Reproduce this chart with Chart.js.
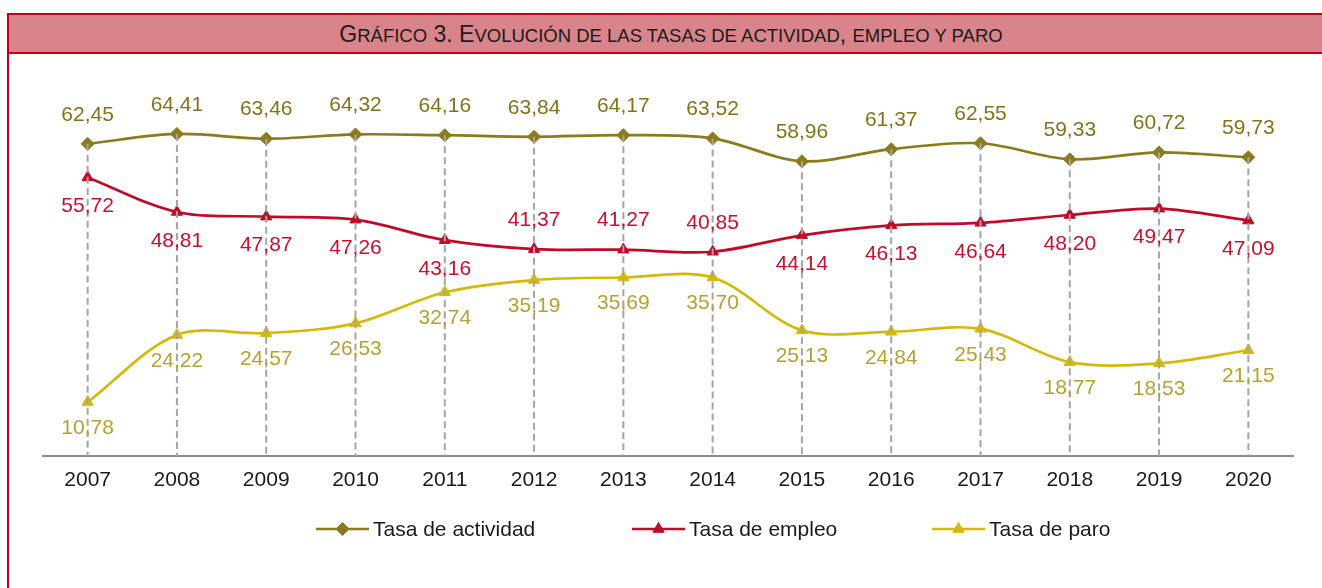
<!DOCTYPE html>
<html>
<head>
<meta charset="utf-8">
<script src="https://cdn.jsdelivr.net/npm/chart.js@4/dist/chart.umd.min.js"></script>
<style>
  html, body { margin: 0; padding: 0; background: #fff; width: 1322px; height: 588px; overflow: hidden; }
  #frame { position: absolute; left: 7px; top: 13px; width: 1328px; height: 600px; border: 2px solid #C0001E; box-sizing: border-box; }
  #band { position: absolute; left: 0; top: 0; right: 0; height: 39px; background: #D9838A; border-bottom: 2px solid #C0001E; box-sizing: border-box;
          font-family: "Liberation Sans", Arial, sans-serif; font-size: 23px; color: #1a1a1a; text-align: center; line-height: 38px; white-space: nowrap; }
  #band .s { font-size: 18.5px; }
  #c { position: absolute; left: 0; top: 0; }
</style>
</head>
<body>
<div id="frame"><div id="band">G<span class="s">RÁFICO</span> 3. E<span class="s">VOLUCIÓN DE LAS TASAS DE ACTIVIDAD</span>, <span class="s">EMPLEO Y PARO</span></div></div>
<canvas id="c" width="1322" height="588"></canvas>
<script>
const categories = ['2007','2008','2009','2010','2011','2012','2013','2014','2015','2016','2017','2018','2019','2020'];
const tasaActividad = [62.45, 64.41, 63.46, 64.32, 64.16, 63.84, 64.17, 63.52, 58.96, 61.37, 62.55, 59.33, 60.72, 59.73];
const tasaEmpleo    = [55.72, 48.81, 47.87, 47.26, 43.16, 41.37, 41.27, 40.85, 44.14, 46.13, 46.64, 48.20, 49.47, 47.09];
const tasaParo      = [10.78, 24.22, 24.57, 26.53, 32.74, 35.19, 35.69, 35.70, 25.13, 24.84, 25.43, 18.77, 18.53, 21.15];
const seriesNames   = ['Tasa de actividad', 'Tasa de empleo', 'Tasa de paro'];

const FONT = '"Liberation Sans", Arial, sans-serif';
const styles = [
  { line: '#8C7A1C', label: '#85731A', point: 'rectRot', radius: 6.5, pos: () => 'above', off: 29 },
  { line: '#C00A28', label: '#C8102E', point: 'triangle', radius: 6.5, pos: i => (i >= 5 && i <= 7 ? 'above' : 'below'), off: 29 },
  { line: '#D4B90A', label: '#B9A030', point: 'triangle', radius: 6.5, pos: () => 'below', off: 26 }
];

function fmt(v) { return v.toFixed(2).replace('.', ','); }

const dropLines = {
  id: 'dropLines',
  afterDatasetsDraw(chart) {
    const ctx = chart.ctx;
    const bottom = chart.chartArea.bottom;
    const metas = chart.data.datasets.map((d, i) => chart.getDatasetMeta(i));
    ctx.save();
    ctx.strokeStyle = '#A5A5A5';
    ctx.lineWidth = 2;
    ctx.setLineDash([7, 4]);
    categories.forEach((c, i) => {
      let top = Infinity, x = 0;
      metas.forEach(m => { const el = m.data[i]; if (el.y < top) { top = el.y; x = el.x; } });
      ctx.beginPath();
      ctx.moveTo(x, top);
      ctx.lineTo(x, bottom);
      ctx.stroke();
    });
    ctx.restore();
  }
};

const valueLabels = {
  id: 'valueLabels',
  afterDraw(chart) {
    const ctx = chart.ctx;
    ctx.save();
    ctx.font = '21px ' + FONT;
    ctx.textAlign = 'center';
    ctx.textBaseline = 'middle';
    chart.data.datasets.forEach((ds, di) => {
      const st = styles[di];
      const meta = chart.getDatasetMeta(di);
      ctx.fillStyle = st.label;
      meta.data.forEach((el, i) => {
        const dy = st.pos(i) === 'above' ? -st.off : st.off;
        ctx.fillText(fmt(ds.data[i]), el.x, el.y + dy);
      });
    });
    ctx.restore();
  }
};

const customLegend = {
  id: 'customLegend',
  afterDraw(chart) {
    const ctx = chart.ctx;
    const y = 529;
    const starts = [316, 632, 932];
    ctx.save();
    ctx.font = '21px ' + FONT;
    ctx.textBaseline = 'middle';
    seriesNames.forEach((name, i) => {
      const st = styles[i];
      const x0 = starts[i];
      ctx.strokeStyle = st.line;
      ctx.fillStyle = st.line;
      ctx.lineWidth = 2.5;
      ctx.beginPath();
      ctx.moveTo(x0, y);
      ctx.lineTo(x0 + 53, y);
      ctx.stroke();
      ctx.lineWidth = 1;
      Chart.helpers.drawPoint(ctx, { pointStyle: st.point, radius: st.radius, borderWidth: 1 }, x0 + 26.5, y);
      ctx.fillStyle = '#1a1a1a';
      ctx.fillText(name, x0 + 57, y + 1);
    });
    ctx.restore();
  }
};

const datasets = [tasaActividad, tasaEmpleo, tasaParo].map((vals, i) => ({
  label: seriesNames[i],
  data: vals,
  borderColor: styles[i].line,
  backgroundColor: styles[i].line,
  pointBackgroundColor: styles[i].line,
  pointBorderColor: styles[i].line,
  pointStyle: styles[i].point,
  pointRadius: styles[i].radius,
  pointBorderWidth: 1,
  borderWidth: 2.7,
  tension: 0.33,
  fill: false
}));

new Chart(document.getElementById('c'), {
  type: 'line',
  data: { labels: categories, datasets },
  options: {
    responsive: false,
    devicePixelRatio: 1,
    animation: false,
    layout: { padding: { left: 43, right: 29, top: 106, bottom: 0 } },
    plugins: { legend: { display: false }, tooltip: { enabled: false }, title: { display: false } },
    scales: {
      x: {
        offset: true,
        grid: { display: false, drawTicks: false, tickLength: 0 },
        border: { display: true, color: '#8C8C8C', width: 2 },
        ticks: { color: '#1a1a1a', font: { family: FONT, size: 21 }, padding: 12, maxRotation: 0 },
        afterFit(s) { s.height = 132; }
      },
      y: { display: false, min: 0, max: 70 }
    }
  },
  plugins: [dropLines, valueLabels, customLegend]
});
</script>
</body>
</html>
